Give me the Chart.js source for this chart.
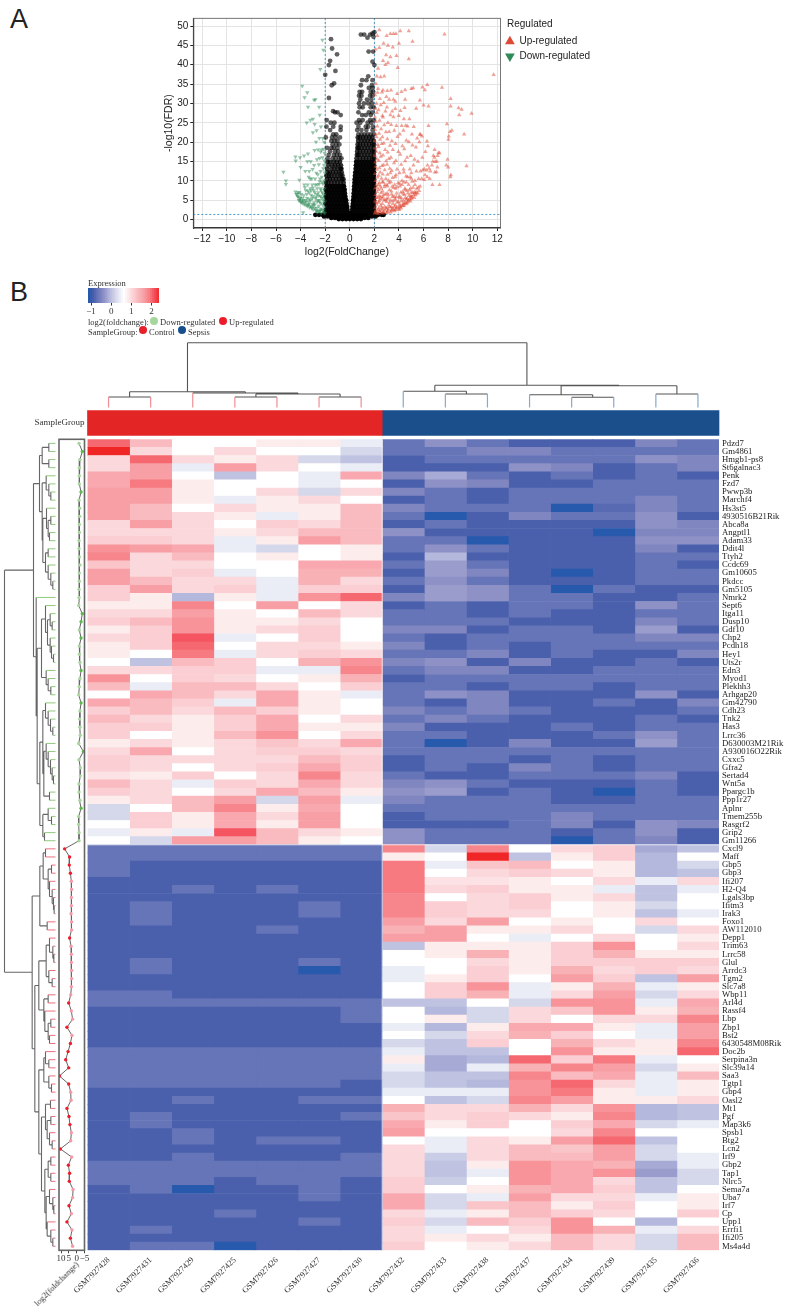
<!DOCTYPE html>
<html><head><meta charset="utf-8">
<script src="https://cdn.jsdelivr.net/npm/chart.js@4/dist/chart.umd.js"></script>
<style>
html,body{margin:0;padding:0;background:#fff;}
body{position:relative;width:789px;height:1308px;overflow:hidden;}
canvas{position:absolute;}
.t{position:absolute;white-space:nowrap;font-family:"Liberation Serif",serif;font-size:8.5px;line-height:10px;color:#333;will-change:transform;}
.s{position:absolute;white-space:nowrap;font-family:"Liberation Sans",sans-serif;font-size:10px;line-height:12px;color:#222;will-change:transform;}
.p{position:absolute;font-family:"Liberation Sans",sans-serif;font-size:27px;line-height:27px;color:#222;}
.d{position:absolute;width:8px;height:8px;border-radius:50%;}
</style></head><body>
<div class="p" style="left:10px;top:6px">A</div>
<div class="p" style="left:10px;top:279px">B</div>
<div class="s" style="left:507px;top:18px">Regulated</div>
<div class="t" style="left:88px;top:278px">Expression</div>
<div class="t" style="left:88px;top:317px">log2(foldchange):</div>
<div class="d" style="left:150px;top:317px;background:#A5D69B"></div>
<div class="t" style="left:160px;top:317px">Down-regulated</div>
<div class="d" style="left:219px;top:317px;background:#ED1C2B"></div>
<div class="t" style="left:229px;top:317px">Up-regulated</div>
<div class="t" style="left:88px;top:327px">SampleGroup:</div>
<div class="d" style="left:139px;top:326px;background:#E8202A"></div>
<div class="t" style="left:149px;top:327px">Control</div>
<div class="d" style="left:178px;top:326px;background:#174F8C"></div>
<div class="t" style="left:188px;top:327px">Sepsis</div>
<div class="t" style="left:15px;top:1258px;width:62px;text-align:right;transform-origin:100% 50%;transform:rotate(-45deg)">log2(foldchange)</div>
<canvas id="volcano" width="789" height="265" style="left:0;top:0"></canvas>
<canvas id="cbar" width="100" height="36" style="left:80px;top:283px"></canvas>
<canvas id="topTree" width="789" height="82" style="left:0;top:330px"></canvas>
<canvas id="group" width="789" height="36" style="left:0;top:405px"></canvas>
<canvas id="leftTree" width="58" height="878" style="left:0;top:430px"></canvas>
<canvas id="fc" width="60" height="878" style="left:40px;top:430px"></canvas>
<canvas id="heat" width="789" height="878" style="left:0;top:430px"></canvas>
<script>
// ---------- Panel A: volcano ----------
const upPoints=[
[2.03,1.6],[2.12,2.3],[2.06,3.1],[2.18,3.9],[2.04,4.7],[2.14,5.6],[2.08,6.4],[2.22,7.2],[2.05,8.1],[2.16,9],[2.09,10],[2.25,10.9],[2.04,11.8],[2.19,12.9],[2.1,13.7],[2.07,14.8],[2.21,15.6],[2.05,16.5],[2.15,17.6],[2.08,18.4],[2.28,19.3],[2.04,20.2],[2.17,21.3],[2.1,22.1],[2.06,23.2],[2.24,24.1],[2.12,25.3],[2.05,26.4],[2.2,27.6],[2.09,28.7],[2.16,30],[2.06,32.2],[2.26,32.8],[2.12,35.1],[2.2,37],[2.1,44],
[2.31,1.5],[2.42,2.1],[2.36,2.9],[2.51,3.6],[2.33,4.4],[2.46,5.2],[2.38,6.1],[2.55,6.9],[2.34,7.7],[2.48,8.6],[2.4,9.5],[2.58,10.6],[2.35,11.4],[2.47,12.2],[2.41,13.3],[2.62,13.9],[2.36,15.2],[2.52,16.3],[2.44,17.2],[2.33,18.8],[2.6,19.6],[2.47,20.7],[2.38,22.2],[2.55,23.4],[2.42,25.6],[2.66,26.8],[2.34,28.3],[2.52,29.6],[2.45,31.2],[2.62,32.9],[2.3,33.8],[2.5,36.8],[2.3,39],[2.4,44.4],[2.25,47.5],[2.4,49],
[2.63,1.6],[2.74,2],[2.68,2.7],[2.83,3.3],[2.65,4.1],[2.79,5],[2.7,5.8],[2.9,6.5],[2.67,7.3],[2.81,8.4],[2.72,9.6],[2.93,10.5],[2.68,11.7],[2.84,12.8],[2.75,14.1],[2.96,15.1],[2.7,16.6],[2.87,18],[2.77,19.7],[2.65,21.3],[2.94,22.6],[2.8,24.4],[2.69,26.4],[2.9,28],[2.76,30.2],[2.97,31.7],[2.7,33.4],[2.8,37],[2.7,41],[2.75,45.5],
[2.98,1.7],[3.07,2.2],[3.02,2.9],[3.17,3.7],[3,4.6],[3.12,5.5],[3.04,6.8],[3.22,7.6],[3.01,8.9],[3.15,10.1],[3.07,11.6],[3.25,13.2],[3.03,14.2],[3.18,15.7],[3.08,17.4],[3.27,19.1],[3.05,20.8],[3.2,22.7],[3.1,25],[3.3,27],[3.02,29],[3.2,31],[3.05,33.3],[2.9,40],[3.1,40.5],[2.95,42.5],[3.1,45],[3,47.5],
[3.31,1.9],[3.43,2.5],[3.36,3.2],[3.52,4.1],[3.33,5],[3.47,5.9],[3.38,7.3],[3.56,8.2],[3.34,9.7],[3.48,10.8],[3.41,12.6],[3.6,14.6],[3.35,16],[3.5,18],[3.42,20.3],[3.62,23],[3.36,24.5],[3.55,26.5],[3.45,28],[3.7,28.6],[3.35,33.4],[3.55,31],[3.3,42],[3.5,44.5],[3.3,48],[3.55,48],
[3.65,2.2],[3.78,2.9],[3.7,3.7],[3.86,4.4],[3.68,5.4],[3.81,6.8],[3.73,8],[3.92,9.4],[3.69,11],[3.84,13],[3.75,15.2],[3.95,17.5],[3.72,19.6],[3.88,21.4],[3.79,24.2],[3.98,26.8],[3.7,30.5],[3.85,32.5],[3.9,39.2],[3.8,42.3],[3.75,48],
[4.02,2.5],[4.12,3.2],[4.06,3.9],[4.19,4.7],[4.04,5.6],[4.15,7],[4.08,8.6],[4.24,10],[4.05,12],[4.18,14.2],[4.1,16.8],[4.28,19],[4.07,22],[4.22,24.2],[4.12,28.1],[4.2,33],[4,45.5],[4.1,48.7],
[4.33,3.5],[4.45,4.2],[4.38,4.9],[4.52,5.6],[4.35,6.6],[4.48,8],[4.41,9.6],[4.58,11.2],[4.37,13],[4.5,15.1],[4.43,18.2],[4.6,20.4],[4.36,23],[4.55,24.3],[4.4,26],[4.46,28.9],[4.5,31],[4.5,33.5],
[4.62,4],[4.74,4.7],[4.67,5.4],[4.83,6.2],[4.65,7.5],[4.78,9],[4.7,11],[4.88,13],[4.66,16],[4.8,20],[4.7,24.1],[4.85,26],[4.8,41.5],[4.8,48.7],
[4.93,4.7],[5.03,5.3],[4.97,6.1],[5.13,7],[4.95,8.1],[5.08,9.8],[5,12],[5.18,14],[4.96,16.5],[5.1,19.2],[5.05,22],[5.2,24],[5.15,34],[5,33.8],[5.1,46],
[5.24,5.6],[5.36,6.3],[5.28,7.1],[5.45,8],[5.3,10],[5.42,12.5],[5.26,15.5],[5.38,18.7],[5.48,21],[5.4,28.7],
[5.52,6.8],[5.64,7.4],[5.58,8.3],[5.72,8.6],[5.6,10.5],[5.75,12.5],[5.54,15],[5.66,20],[5.7,22],[5.75,21.9],[5.7,30.8],
[5.85,10.5],[5.95,12.8],[5.9,16],[5.88,21.5],[5.9,34.2],[6.05,10.3],[6.12,11.5],[6.08,13],[6.15,17.5],[6,29.5],[6.1,33.5],
[6.3,11],[6.25,12.7],[6.32,14],[6.35,19],[6.28,20.2],[6.4,24.2],[6.4,29.3],[6.3,34.8],
[6.5,10.5],[6.55,12.5],[6.45,13.2],[6.72,9],[6.68,14],[6.75,15],[6.8,16.5],[6.92,12.2],[6.95,15],[6.88,16],[6.9,18],
[7.05,12.3],[7.12,13.5],[7.08,15],[7.15,16.5],[7.2,17.2],[7.3,9],[7.3,17.2],[7.5,34.1],[7.7,47.9],
[7.85,14],[7.95,15.5],[7.9,24.7],[8,13.5],[8.02,20.7],[8.05,21.5],[8.18,11],[8.22,11.5],[8.15,22.7],[8.3,23],[8.2,29.3],[8.2,31.2],
[8.9,27],[8.85,28.8],[9.1,28.4],[9.3,22],[9.5,13.8],[9.9,27.4],[11.7,37.4]];
const upLowBand=[[2.08,1.9],[2.2,1.7],[2.3,2.5],[2.45,1.8],[2.55,2.4],[2.6,3.1],[2.72,1.7],[2.85,2.4],[2.95,3],[3.05,1.9],[3.15,2.6],[3.25,3.3],[3.38,2.2],[3.46,2.9],[3.58,2.5],[3.62,3.3],[3.74,2.5],[3.83,3.2],[3.97,2.9],[4.08,3.4],[4.16,2.9],[4.27,3.6],[4.35,4.1],[4.42,3.6],[4.55,4.3],[4.68,4.4],[4.78,5],[4.88,5.3],[4.98,5.7],[5.07,5.9],[5.2,6.3],[5.32,6.8],[5.42,7],[2.15,4.4],[2.27,5.6],[2.4,4.8],[2.5,5.9],[2.62,5.4],[2.75,6.4],[2.88,5],[3,5.3],[3.12,6.3],[3.24,4.4],[3.4,6.5],[3.5,4.8],[3.6,6],[3.7,5],[3.8,5.9],[3.95,4.6],[4.05,6],[4.2,5.5],[4.3,7.2],[4.45,6.4],[4.6,5.2],[4.72,6.8],[4.85,7.6],[5,7],[5.15,8.3],[5.3,9],[2.2,8.3],[2.35,9],[2.55,8],[2.65,9.7],[2.85,8.9],[3.05,8.6],[3.2,9.4],[3.45,8.5],[3.65,9],[3.85,8.4],[4.05,9.3],[4.25,9],[4.5,7.6],[5,10.6],[4.6,9.6],[3.3,12],[3.75,11.5],[4.4,12.2],[4.9,11]];
const downPoints=[
[-2.03,1.6],[-2.14,2.3],[-2.06,3.1],[-2.2,3.8],[-2.04,4.6],[-2.16,5.4],[-2.08,6.3],[-2.24,7.1],[-2.05,8],[-2.18,9.2],[-2.09,10],[-2.27,11],[-2.04,12.1],[-2.15,13.2],[-2.1,14.1],[-2.06,15.2],[-2.22,16],[-2.05,17.1],[-2.13,18.2],[-2.08,20],[-2.3,18],[-2.2,21],[-2.15,43.8],[-2.23,46.4],
[-2.33,1.6],[-2.44,2.1],[-2.37,2.8],[-2.53,3.5],[-2.35,4.2],[-2.48,5],[-2.4,6],[-2.56,7],[-2.36,8],[-2.5,9.1],[-2.42,10.5],[-2.6,11.6],[-2.38,12.5],[-2.52,14.2],[-2.45,15.8],[-2.36,17.5],[-2.58,18],[-2.48,21],[-2.35,24],[-2.45,27],[-2.5,29.1],[-2.4,38.8],
[-2.63,1.8],[-2.74,2.4],[-2.68,3],[-2.85,3.8],[-2.65,4.6],[-2.79,5.4],[-2.7,6.5],[-2.92,7.5],[-2.66,9],[-2.82,10.5],[-2.72,12],[-2.9,14],[-2.67,15.5],[-2.86,17.9],[-2.75,20],[-2.7,23],[-2.86,24.6],[-2.8,31],[-2.9,30.9],
[-2.98,2.6],[-3.08,3.2],[-3.02,4],[-3.18,5],[-3,6],[-3.14,7.5],[-3.05,9],[-3.22,10.5],[-3.03,13],[-3.18,15],[-3,22.5],[-3,26],[-3.2,25.7],
[-3.28,3.1],[-3.4,3.8],[-3.33,4.6],[-3.48,5.5],[-3.3,7],[-3.43,9],[-3.35,11],[-3.3,12.5],[-3.45,15],[-3.4,17],[-3.5,25],[-3.4,29.1],[-3.46,32.8],
[-3.55,3.7],[-3.67,4.4],[-3.6,5],[-3.75,6.2],[-3.58,7.5],[-3.7,9],[-3.62,12.5],[-3.72,16.5],[-3.68,31.5],[-3.8,1.8],
[-3.82,4.2],[-3.9,4.8],[-3.85,5.5],[-3.95,6.5],[-3.87,34.5],[-4,4.5],[-4.08,5],[-4.03,5.6],[-4.1,7],[-4,13.5],[-4.05,16],
[-4.15,5],[-4.25,6],[-4.2,7],[-4.1,10.2],[-4.35,6.5],[-4.42,7.2],[-4.4,15.2],[-4.42,16.2],[-5.2,9.1],[-5.2,10],[-5.4,12.3]];
const downLowBand=[[-2.12,1.9],[-2.25,2.6],[-2.4,2.4],[-2.55,2.1],[-2.7,2.2],[-2.85,2.9],[-2.95,3.6],[-3.1,2.9],[-3.2,3.5],[-3.32,4],[-3.45,3.5],[-3.55,4.5],[-3.7,3.9],[-3.78,5],[-3.92,4.4],[-4.05,5.4],[-4.2,5.8],[-4.28,6.6],[-2.15,4.9],[-2.3,5.7],[-2.45,4.5],[-2.6,5],[-2.75,5.8],[-2.9,4.4],[-3.05,5.5],[-3.15,6.3],[-3.3,5.3],[-3.5,6.5],[-2.2,6.7],[-2.35,7.6],[-2.55,6.2],[-2.65,8],[-2.85,7],[-3,8.2],[-3.2,8],[-3.4,7.4],[-3.65,8.3],[-2.25,9.6],[-2.45,9.8],[-2.8,9],[-3.1,10.5]];
const neutralRows=[
[0.1,[-.9,-.6,-.3,0,.3,.6,.9]],
[0.4,[-1.5,-1.2,-.9,-.6,-.3,0,.3,.6,.9,1.2,1.5]],
[0.8,[-2.1,-1.8,-1.5,-1.2,-.9,-.6,-.3,0,.3,.6,.9,1.2,1.5,1.8,2.1]],
[1.2,[-2.8,-2.5,-2.2,-1.9,-1.6,-1.3,-1,-.7,-.4,-.1,.2,.5,.8,1.1,1.4,1.7,2,2.3,2.6,2.75]],
[1.7,[-2,-1.7,-1.4,-1.1,-.8,-.5,-.2,0,.2,.5,.8,1.1,1.4,1.7,2]],
[2.5,[-1.95,-1.7,-1.45,-1.2,-.95,-.7,-.45,-.2,.2,.45,.7,.95,1.2,1.45,1.7,1.95]],
[3.3,[-1.85,-1.6,-1.35,-1.1,-.85,-.6,-.35,-.22,.22,.33,.58,.83,1.08,1.33,1.58,1.83,1.97]],
[4.1,[-1.97,-1.75,-1.5,-1.25,-1,-.75,-.5,-.27,.25,.45,.7,.95,1.2,1.45,1.7,1.95]],
[5,[-1.88,-1.62,-1.37,-1.12,-.87,-.62,-.38,-.3,.27,.33,.58,.83,1.08,1.33,1.58,1.83,1.97]],
[5.9,[-1.95,-1.75,-1.5,-1.25,-1,-.75,-.5,-.36,.3,.45,.7,.95,1.2,1.45,1.7,1.95]],
[6.8,[-1.88,-1.62,-1.37,-1.12,-.87,-.62,-.4,.32,.58,.83,1.08,1.33,1.58,1.83,1.97]],
[7.7,[-1.95,-1.75,-1.5,-1.25,-1,-.75,-.5,-.42,.34,.45,.7,.95,1.2,1.45,1.7,1.95]],
[8.6,[-1.88,-1.62,-1.37,-1.12,-.87,-.62,-.48,.36,.58,.83,1.08,1.33,1.58,1.83,1.97]],
[9.5,[-1.93,-1.75,-1.5,-1.25,-1,-.75,-.5,.38,.5,.7,.95,1.2,1.45,1.7,1.95]],
[10.4,[-1.85,-1.62,-1.37,-1.12,-.87,-.62,-.52,.4,.58,.83,1.08,1.33,1.58,1.83,1.97]],
[11.3,[-1.9,-1.7,-1.5,-1.25,-1,-.75,-.6,.42,.7,.95,1.2,1.45,1.7,1.95]],
[12.2,[-1.8,-1.62,-1.37,-1.12,-.87,-.66,.45,.58,.83,1.08,1.33,1.58,1.83,1.97]],
[13.1,[-1.85,-1.5,-1.25,-1,-.75,-.68,.48,.7,.95,1.2,1.45,1.7,1.95]],
[14,[-1.75,-1.45,-1.2,-.95,-.72,.5,.62,.83,1.08,1.33,1.58,1.83,1.97]],
[14.9,[-1.8,-1.6,-1.3,-1.05,-.8,.52,.7,.95,1.2,1.45,1.7,1.95]],
[15.8,[-1.8,-1.4,-1.15,-.85,-.68,.55,.83,1.08,1.33,1.58,1.83,1.97]],
[16.7,[-1.72,-1.3,-1.05,-.8,.58,.7,.95,1.2,1.45,1.7,1.95]],
[17.6,[-1.6,-1.2,-.95,.6,.83,1.08,1.33,1.58,1.83,1.97]],
[18.5,[-1.85,-1.5,-1.3,-1,.62,.72,.95,1.2,1.45,1.7,1.95]],
[19.4,[-1.4,-1.1,-.85,.64,.83,1.08,1.33,1.58,1.83,1.97]],
[20.3,[-1.5,-1.25,-1,.68,.95,1.2,1.45,1.7,1.95]],
[21.2,[-1.95,-1.45,-1.15,-.8,.65,.83,1.08,1.33,1.58,1.83]],
[22,[-1.35,-1.1,.7,.95,1.2,1.45,1.7,1.95]],
[23.1,[-1.6,-.75,.6,.95,1.35,1.85]],
[24,[-1.9,-1.35,-.74,.7,1.3,1.5,1.9]],
[25,[-1.55,-1.25,.55,.85,1.45,1.75]],
[25.7,[-1.88,.75,1.05,1.65,1.95]],
[27,[-.74,1,1.3,1.7]],
[27.7,[-1.2,-1,.7,1.55,1.85]],
[28,[-1.36]],
[29,[.8,1.05,1.7,1.95]],
[30,[.75,1.15,1.5,1.8]],
[31,[.85,1.4,1.75]],
[31.4,[-1.7]],
[32,[.75,.95,1.65,1.85]],
[33,[.8,1,1.7,1.9]],
[34,[1.55,1.85]],
[34.7,[-1.47,.9,1.8]],
[35.2,[-1.28]],
[36,[1,1.35,1.85]],
[37,[1.5]],[37.4,[-2]],[38.4,[-1.17]],[39.9,[-1.7,2]],[40.8,[1.85]],[41,[-1.6]],
[42.7,[-1.04]],[43.4,[1.53,1.9]],[44.2,[-1.44]],[46.6,[-1.53]],
[47,[1.44]],[47.2,[1.93]],[47.8,[.9,1.17,1.66]],[48.1,[1.85]],[48.4,[2]]];
const fdrCut=[1.3], fcCut=[-2,2];

// ---------- Panel B: heatmap ----------
const samples=["GSM7927428","GSM7927431","GSM7927429","GSM7927425","GSM7927426","GSM7927427","GSM7927430","GSM7927432","GSM7927433","GSM7927438","GSM7927437","GSM7927434","GSM7927439","GSM7927435","GSM7927436"];
const genes=["Pdzd7","Gm4861","Hmgb1-ps8","St6galnac3","Penk","Fzd7","Pwwp3b","Marchf4","Hs3st5","4930516B21Rik","Abca8a","Angptl1","Adam33","Ddit4l","Ttyh2","Ccdc69","Gm10605","Pkdcc","Gm5105","Nmrk2","Sept6","Itga11","Dusp10","Gdf10","Chp2","Pcdh18","Hey1","Uts2r","Edn3","Myod1","Plekhh3","Arhgap20","Gm42790","Cdh23","Tnk2","Has3","Lrrc36","D630003M21Rik","A930016O22Rik","Cxxc5","Gfra2","Sertad4","Wnt5a","Ppargc1b","Ppp1r27","Aplnr","Tmem255b","Rasgrf2","Grip2","Gm11266",
"Cxcl9","Maff","Gbp5","Gbp3","Ifi207","H2-Q4","Lgals3bp","Ifitm3","Irak3","Foxo1","AW112010","Depp1","Trim63","Lrrc58","Glul","Arrdc3","Tgm2","Slc7a8","Wbp11","Arl4d","Rassf4","Lbp","Zbp1","Bst2","6430548M08Rik","Doc2b","Serpina3n","Slc39a14","Saa3","Tgtp1","Gbp4","Oasl2","Mt1","Pgf","Map3k6","Spsb1","Btg2","Lcn2","Irf9","Gbp2","Tap1","Nlrc5","Sema7a","Uba7","Irf7","Cp","Upp1","Errfi1","Ifi205","Ms4a4d"];
const controlUpper=[
[2,1.3,.6,.6,.8,.8,.4],[2.4,1,.6,1,.6,.6,.2],[1,2,1,.8,1,.2,0],[1,1.6,.4,1.6,1,.6,.4],[1.5,1.6,.6,0,.6,.4,1.5],
[1.5,1.9,.8,.6,.6,.4,.6],[1.6,1.6,.8,.6,1,.2,1],[1.6,1.6,.8,.4,.8,1,.6],[1.6,1.3,.6,1,.8,.8,1.3],[1.6,1.3,1,.8,.4,.8,1.3],
[1,1.6,1,.6,1.1,1,1.3],[1,1,1,.8,1,1.3,1.3],[1.1,1.1,1,.4,.8,1.6,1.3],[1.7,1.6,1.5,.4,.2,.6,.8],[1.8,1,1.3,.6,.8,.6,.8],
[1.2,1,1,.6,.6,1.5,1.5],[1.6,1,1.1,.4,.6,1.4,1.4],[1.6,1.3,1,1,.4,1.4,1],[1.1,1.6,1,1.1,.4,1.1,1.1],[1.1,.8,-.1,.8,.4,1.7,2],
[.8,.8,1.8,.6,1.6,.6,1],[1,1,1.6,.8,.6,1.3,1],[1.1,1.3,1.7,.8,.8,1,.6],[.8,1.1,1.7,.8,1,1.1,.6],[1,1.1,2.1,.4,.6,1.1,.6],
[.8,1.1,2,.6,1,1,.8],[.8,.6,1.9,.4,1,1.1,1],[.6,0,1.3,1.1,.6,1.4,1.7],[1,1,1.1,1.1,.4,.4,1.8],[1.7,.6,1.1,1,.6,.8,1.4],
[1.3,.4,1.3,1.3,1,.6,1.1],[.6,1.5,1.3,1,1.5,.8,.4],[1.5,1.3,1.1,.4,1.5,.8,.6],[1.1,1.3,1,1.3,1.1,.8,.6],[1.3,1,.8,1.1,1.5,.6,1],
[1.1,1.1,.8,1.1,1.5,.8,.8],[1.1,.6,.8,1.3,1.7,.6,1],[.8,1,.8,1,1.2,1,1.5],[1,1.5,.6,1,1.1,1.1,1],[1.1,1,1,1,1,1.3,1.1],
[1.1,1,.6,1,1.1,1.5,1.1],[.9,.8,1.1,.6,1,1.8,1],[1.3,1,.4,1.1,1,1.5,1],[1.1,1,.6,1,1.5,1.3,.8],[.8,1,1.3,1.6,.2,1.6,.4],
[.2,.6,1.3,1.8,.8,1.5,.6],[.2,1.1,.8,1.5,1,1.6,.6],[.6,1.1,.8,1.5,.8,1.6,.6],[.4,.8,.4,2.1,1.3,1,.8],[.6,.2,1.6,1.6,1.3,.8,.6]];
const sepsisUpper=[
[-.7,-.4,-.7,-.9,-.9,-.9,-.5,-.7],[-.7,-.7,-.5,-.5,-.7,-.7,-.7,-.7],[-.9,-.7,-.7,-.7,-.7,-.7,-.4,-.5],[-.9,-.9,-.9,-.4,-.5,-.9,-.7,-.5],[-.5,-.2,-.7,-.9,-.7,-.9,-.7,-.9],
[-.9,-.4,-.5,-.9,-.9,-.7,-.7,-.7],[-.5,-.7,-.9,-.7,-.7,-.7,-.7,-.7],[-.9,-.7,-.9,-.7,-.7,-.7,-.5,-.7],[-.5,-.7,-.7,-.7,-1.1,-.8,-.5,-.7],[-.7,-1.1,-.9,-.5,-.7,-.7,-.4,-.9],
[-.9,-.7,-.9,-.9,-.9,-.9,-.4,-.5],[-.4,-.9,-.9,-.9,-.9,-1.1,-.5,-.5],[-.7,-.7,-1.1,-.9,-.9,-.9,-.4,-.4],[-.7,-.4,-.7,-.9,-.9,-.9,-.5,-.9],[-.9,-.1,-.9,-.9,-.9,-.9,-.7,-.7],
[-.7,-.3,-.7,-.9,-.9,-.9,-.7,-.9],[-.9,-.3,-.5,-.9,-1.1,-.9,-.7,-.7],[-.7,-.4,-.7,-.9,-.9,-.9,-.7,-.7],[-.9,-.3,-.4,-.7,-1.1,-.7,-.9,-.9],[-.5,-.3,-.4,-.7,-.7,-.9,-.9,-.7],
[-.9,-.7,-.9,-.7,-.7,-.9,-.4,-.7],[-.7,-.7,-.9,-.7,-.9,-.9,-.7,-.7],[-.7,-.7,-.7,-.9,-.9,-.9,-.5,-.7],[-.5,-.5,-.9,-.7,-.7,-.9,-.3,-.9],[-.7,-.9,-.7,-.7,-.7,-.7,-.5,-.5],
[-.5,-.9,-.7,-.9,-.7,-.7,-.7,-.7],[-.7,-.7,-.5,-.9,-.7,-.9,-.9,-.5],[-.5,-.4,-.9,-.5,-.9,-.9,-.7,-.9],[-.7,-.5,-.5,-.9,-.9,-.7,-.7,-.7],[-.9,-.7,-.7,-.7,-.7,-.7,-.7,-.7],
[-.7,-.7,-.9,-.7,-.7,-.9,-.7,-.7],[-.7,-.4,-.5,-.9,-.9,-.9,-.4,-.9],[-.7,-.9,-.5,-.9,-.9,-.7,-.9,-.5],[-.5,-.7,-.5,-.7,-.9,-.9,-.9,-.7],[-.7,-.5,-.7,-.9,-.9,-.9,-.7,-.9],
[-.5,-.9,-.9,-.9,-.7,-.9,-.7,-.7],[-.7,-.7,-.9,-.9,-.9,-.7,-.4,-.7],[-.7,-1.1,-.9,-.5,-.9,-.9,-.3,-.7],[-.7,-.7,-.7,-.7,-.7,-.7,-.7,-.7],[-.9,-.7,-.7,-.9,-.7,-.9,-.7,-.7],
[-.9,-.7,-.9,-.5,-.7,-.9,-.7,-.7],[-.7,-.9,-.9,-.7,-.7,-.7,-.5,-.9],[-.5,-.4,-.7,-.9,-.9,-.9,-.7,-.9],[-.4,-.3,-.9,-.7,-.9,-1.1,-.7,-.9],[-.5,-.7,-.7,-.7,-.9,-.9,-.7,-.7],
[-.7,-.7,-.7,-.7,-.7,-.7,-.7,-.7],[-.9,-.7,-.7,-.7,-.5,-.7,-.7,-.7],[-.9,-.9,-.9,-.7,-.5,-.9,-.4,-.5],[-.4,-.7,-.7,-.7,-.9,-.7,-.4,-.9],[-.4,-.7,-.7,-.7,-1.1,-.7,-.5,-.9]];
const controlLower=[
[-.7,-.7,-.7,-.7,-.7,-.7,-.7],[-.7,-.7,-.7,-.7,-.7,-.7,-.7],[-.7,-.9,-.9,-.9,-.9,-.9,-.9],[-.7,-.9,-.9,-.9,-.9,-.9,-.9],[-.9,-.9,-.9,-.9,-.9,-.9,-.9],
[-.9,-.9,-.7,-.9,-.7,-.9,-.9],[-.9,-.9,-.9,-.9,-.9,-.9,-.9],[-.9,-.7,-.9,-.9,-.9,-.7,-.9],[-.9,-.7,-.9,-.9,-.9,-.7,-.9],[-.9,-.7,-.9,-.9,-.9,-.9,-.9],
[-.9,-.9,-.9,-.9,-.7,-.9,-.9],[-.9,-.9,-.9,-.9,-.9,-.9,-.9],[-.9,-.9,-.9,-.9,-.9,-.9,-.9],[-.9,-.9,-.9,-.9,-.9,-.9,-.9],[-.9,-.7,-.9,-.9,-.9,-.7,-.9],
[-.9,-.7,-.9,-.9,-.9,-1.1,-.9],[-.9,-.9,-.9,-.9,-.9,-.9,-.9],[-.9,-.9,-.9,-.9,-.9,-.9,-.9],[-.7,-.7,-.9,-.9,-.9,-.9,-.9],[-.7,-.7,-.7,-.7,-.7,-.7,-.7],
[-.9,-.9,-.9,-.9,-.9,-.9,-.7],[-.9,-.9,-.9,-.9,-.9,-.9,-.7],[-.9,-.9,-.9,-.9,-.9,-.9,-.9],[-.9,-.9,-.9,-.9,-.9,-.9,-.9],[-.9,-.9,-.9,-.9,-.9,-.9,-.9],
[-.7,-.7,-.7,-.7,-.7,-.7,-.7],[-.7,-.7,-.7,-.7,-.7,-.7,-.7],[-.7,-.7,-.7,-.7,-.7,-.7,-.7],[-.7,-.7,-.7,-.7,-.7,-.7,-.7],[-.7,-.7,-.7,-.7,-.7,-.7,-.9],
[-.9,-.9,-.9,-.9,-.9,-.9,-.9],[-.9,-.9,-.7,-.9,-.9,-.7,-.7],[-.9,-.9,-.9,-.9,-.9,-.9,-.9],[-.9,-.7,-.9,-.9,-.9,-.9,-.7],[-.9,-.7,-.9,-.9,-.9,-.9,-.9],
[-.9,-.9,-.7,-.9,-.9,-.9,-.9],[-.9,-.9,-.7,-.9,-.7,-.7,-.9],[-.9,-.9,-.9,-.9,-.9,-.9,-.9],[-.9,-.9,-.7,-.9,-.9,-.9,-.7],[-.7,-.7,-.7,-.7,-.7,-.7,-.7],
[-.7,-.7,-.7,-.7,-.7,-.7,-.7],[-.7,-.7,-.7,-.9,-.7,-.7,-.9],[-.9,-.7,-1.1,-.9,-.9,-.7,-.9],[-.9,-.9,-.9,-.9,-.9,-.7,-.9],[-.9,-.9,-.9,-.9,-.9,-.9,-.9],
[-.9,-.9,-.9,-.7,-.9,-.9,-.9],[-.9,-.9,-.9,-.9,-.9,-.7,-.9],[-.9,-.7,-.9,-.9,-.9,-.9,-.9],[-.9,-.9,-.9,-.9,-.9,-.9,-.9],[-.9,-.7,-.7,-1.1,-.9,-.9,-.9]];
const sepsisLower=[
[1.8,.2,1.8,.6,1,1.1,-.2,0],[.8,.6,2.4,0,.8,1.1,-.1,.6],[1.9,.4,1.2,1.3,.6,.8,-.1,.2],[1.9,.6,1,1.1,1,.8,-.1,0],[1.9,.9,.9,.8,.6,1,.4,1],
[1.9,1,1.1,.8,.8,.4,0,.4],[1.8,.6,1,1.1,.8,1,0,.6],[1.8,1.1,1,1.1,.6,.8,.2,.6],[1.8,1.1,1,1,.6,.8,0,.4],[1.6,1,1.6,.6,.8,.6,1,.6],
[1.4,1.6,.8,.8,1,.6,.2,1],[1.6,1.6,.6,.4,.6,1,.6,.8],[0,.8,.8,.8,1.1,1.7,.6,1],[.6,.8,1.4,.8,1.1,1.4,.8,.8],[.6,.6,1,.8,1.1,1.1,1.1,1.1],
[.4,.6,1.1,.8,1.4,1,1.1,1],[.4,.8,1.1,.6,1.6,1.1,0,1.6],[.6,1.1,1.7,.4,.8,1.4,.4,.8],[.6,1.1,1.4,.4,1,1.6,.2,1],[0,0,.6,.2,1.7,1.7,.4,1.5],
[.6,-.1,.2,1,1.2,1.7,.8,1.4],[.6,.8,.2,1,.6,1,1,1.8],[.4,-.1,.8,1.5,1.5,.8,.4,1.6],[.6,.2,1,1.4,1.1,.6,.4,1.6],[.2,0,1.1,.6,1.4,1,.8,1.8],
[.4,0,0,.6,1.7,.8,.8,2],[.8,-.2,-.1,2,1.1,1.9,.4,.6],[.4,-.2,.4,1.4,1.8,1.6,.2,.8],[.2,0,0,1.8,1.3,1.5,.4,1.3],[.2,0,-.1,1.7,2,1,.4,.8],
[.4,.4,.4,1.7,1.9,.8,.4,.8],[.6,0,.2,1.8,1.6,.8,.8,1],[1.4,1,1,1.4,1,1.7,-.1,0],[1.2,1,1.1,1,.8,1.8,-.1,0],[1.5,.8,1.1,.6,1.1,1.5,.2,.4],
[1.6,.6,.6,.6,1,1.8,.6,.6],[.6,.4,1,.8,1.6,2,0,.6],[1,.4,1,1.3,1.2,1.6,.2,.6],[1,.1,1,1.3,1.3,1.6,.2,.4],[1,0,.8,1.7,1.5,1.4,-.2,.4],
[1,0,.4,1.7,1.5,1.7,-.3,.2],[1.1,.1,.6,1.7,1.5,1,0,.2],[1.1,.6,.8,1.4,1.5,1.1,0,.6],[1.5,.2,.4,1.6,1,1,.4,.8],[1.5,.2,1.2,1.3,.8,1.1,.6,.8],
[1,.4,.8,1.3,1.1,1,.6,1.1],[1.1,.2,1.3,1.1,1.7,.6,-.1,.6],[1,.4,.6,1,1.7,1.4,.4,1],[1,.8,1,.8,1.3,1,.2,1.3],[1.1,.6,.8,1,1.3,1,.2,1.3]];
const log2fc=[-1.5,-3.6,-2.1,-1.7,-1.7,-1.7,-2.8,-1.5,-1.9,-1.9,-1.7,-1.7,-1.5,-1.5,-1.7,-2.1,-1.7,-1.7,-1.5,-1.5,-1.3,-3.6,-2.8,-1.7,-2.8,-1.7,-1.7,-2.1,-2.8,-2.1,-1.7,-1.3,-2.8,-2.1,-1.9,-2.1,-2.3,-1.3,-4.3,-1.5,-2.3,-2.3,-1.5,-1.5,-2.1,-2.8,-1.3,-1.3,-1.5,-1.5,
7.7,4.5,4.7,4,3.4,3.2,3.4,3.4,3.6,3.2,3.2,4.5,3.6,3.4,3.4,3.2,3.2,3.4,3.8,5.1,3.4,2.6,6.2,3,4,5.5,7,5.1,11,5.1,3.8,3.6,6.2,4.9,4.3,3.4,3.8,10.4,3.2,5.3,4.5,4.7,2.3,2.6,4.9,3.4,6.2,3,4,2.6];
const groupNames=["Control","Sepsis"], groupSizes=[7,8];
// merge trees: [merge height, left, right]; 0 is a leaf
const rowTree=[153,
 [66,
  [48,[40,[20,0,0],[20,0,0]],[40,[28,0,[20,0,[14,0,0]]],[38,[27,0,[22,[14,0,0],[18,0,0]]],[30,[22,0,0],[22,0,[14,0,[8,0,0]]]]]]],
  [58,0,[55,[42,[30,0,[24,[16,0,[10,0,0]],[16,0,[12,0,[6,0,0]]]]],[28,0,[22,0,[14,0,0]]]],
      [47,[38,[30,0,[22,0,[15,0,[8,0,0]]]],[35,[28,0,[22,0,[15,0,[10,0,[6,0,0]]]]],[18,0,0]]],[38,[22,0,[12,0,0]],[33,0,0]]]]]],
 [70,
  [47,[37,[30,0,0],[22,[12,0,0],[18,0,[10,0,[6,0,[4,0,0]]]]]],[25,0,0]],
  [62,[50,[28,[18,0,[8,0,[5,0,0]]],[20,0,[10,0,0]]],[35,[22,0,0],[32,0,[22,[14,0,0],[18,0,0]]]]],
      [50,[35,[30,0,[20,0,0]],[20,0,[12,0,0]]],
          [42,[30,[15,0,0],[25,[14,0,0],[18,0,[10,0,0]]]],[32,[22,[14,0,0],[14,0,0]],[28,[18,0,[8,0,[5,0,0]]],[25,0,[14,0,[8,0,0]]]]]]]]]];
const colTree=[64.8,
 [15.8,[10.5,0,0],[14.5,0,[13.5,[10.5,0,0],[10.5,0,0]]]],
 [22.2,[16.2,0,[13.5,0,0]],[21.8,[12.8,0,[10.2,0,0]],[13.5,0,0]]]];

// ---------- helpers ----------
const SERIF='"Liberation Serif",serif', SANS='"Liberation Sans",sans-serif';
Chart.defaults.animation=false;
Chart.defaults.responsive=false;
Chart.defaults.devicePixelRatio=1;
Chart.defaults.plugins.tooltip.enabled=false;
Chart.defaults.plugins.legend.display=false;
const frame=(color,w)=>({id:'frame',afterDatasetsDraw(c){const a=c.chartArea,x=c.ctx;x.save();x.strokeStyle=color;x.lineWidth=w;x.strokeRect(a.left,a.top,a.right-a.left,a.bottom-a.top);x.restore();}});
const stops=[[-1.15,'#1E58AC'],[-.9,'#4A60AC'],[-.7,'#6674B8'],[-.5,'#8086BF'],[-.3,'#9A9CCC'],[-.1,'#B4B8DC'],[.2,'#D5D8EB'],[.4,'#EBEDF6'],[.6,'#FFFFFF'],[.8,'#FDECEC'],[1,'#FBD8DB'],[1.3,'#F9BBBF'],[1.6,'#F79FA5'],[1.9,'#F67A80'],[2.1,'#F45560'],[2.37,'#F02525']];
const rgb=h=>[1,3,5].map(i=>parseInt(h.slice(i,i+2),16));
function exprColor(v){
  let i=0; while(i<stops.length-2&&v>stops[i+1][0])i++;
  const [a,ca]=stops[i],[b,cb]=stops[i+1],t=Math.max(0,Math.min(1,(v-a)/(b-a))),A=rgb(ca),B=rgb(cb);
  return `rgb(${A.map((k,j)=>Math.round(k+(B[j]-k)*t)).join(',')})`;
}
const minus=v=>String(v).replace('-','\u2212');
const pairs=l=>l.map(([x,y])=>({x,y}));
const rows=l=>l.flatMap(([y,xs])=>xs.map(x=>({x,y})));
function treeLines(tree,horizontal){
  let next=0; const inner=[],leaf=[];
  const pt=(p,h)=>horizontal?{x:h,y:p}:{x:p,y:h};
  const gap={x:null,y:null};
  (function walk(n){
    if(n===0) return {p:.5+next++,h:0,leaf:true};
    const a=walk(n[1]),b=walk(n[2]),h=n[0];
    for(const c of [a,b]) (c.leaf?leaf:inner).push(pt(c.p,c.h),pt(c.p,h),gap);
    inner.push(pt(a.p,h),pt(b.p,h),gap);
    return {p:(a.p+b.p)/2,h,leaf:false};
  })(tree);
  return {inner,leaf};
}
const lineDs=(data,color,w)=>({data,showLine:true,borderColor:color,borderWidth:w,pointRadius:0,spanGaps:false,clip:false});

// ---------- volcano ----------
const neutralData=rows(neutralRows);
const neutralShade=p=>{
  const solid=p.x>0?15:9, mottled=p.x>0?22:15;
  return p.y<solid?'rgba(0,0,0,.97)':p.y<mottled?'rgba(0,0,0,.8)':'rgba(0,0,0,.62)';
};
new Chart(document.getElementById('volcano'),{type:'scatter',
 data:{datasets:[
  {label:'Up-regulated',data:pairs([...upPoints,...upLowBand]),pointStyle:'triangle',pointRadius:2.5,backgroundColor:'rgba(224,70,50,.5)',borderWidth:0,pointBorderWidth:0},
  {label:'Down-regulated',data:pairs([...downPoints,...downLowBand]),pointStyle:'triangle',rotation:180,pointRadius:2.5,backgroundColor:'rgba(46,139,87,.5)',borderWidth:0,pointBorderWidth:0},
  {label:'Not significant',data:neutralData,pointRadius:2.4,pointBorderWidth:0,pointBackgroundColor:neutralData.map(neutralShade)},
  {label:'FC-',data:[{x:fcCut[0],y:-2.2},{x:fcCut[0],y:52}],showLine:true,borderColor:'#4F97BE',borderWidth:1,borderDash:[2,2],pointRadius:0},
  {label:'FC+',data:[{x:fcCut[1],y:-2.2},{x:fcCut[1],y:52}],showLine:true,borderColor:'#4F97BE',borderWidth:1,borderDash:[2,2],pointRadius:0},
  {label:'FDR',data:[{x:-12.73,y:fdrCut[0]},{x:12.25,y:fdrCut[0]}],showLine:true,borderColor:'#4F97BE',borderWidth:1,borderDash:[2,2],pointRadius:0}
 ]},
 options:{
  layout:{autoPadding:false,padding:{left:163,top:18.3,right:189,bottom:7}},
  plugins:{legend:{display:true,position:'right',align:'start',
    title:{display:true,text:'',font:{family:SANS,size:10},padding:{top:2,bottom:-1}},
    labels:{usePointStyle:true,boxHeight:8,boxWidth:9,padding:5,color:'#222',font:{family:SANS,size:10},
     generateLabels:()=>[
      {text:'Up-regulated',fontColor:'#222',fillStyle:'#DD4A36',strokeStyle:'#DD4A36',lineWidth:0,pointStyle:'triangle',rotation:0,datasetIndex:0},
      {text:'Down-regulated',fontColor:'#222',fillStyle:'#2E8B57',strokeStyle:'#2E8B57',lineWidth:0,pointStyle:'triangle',rotation:180,datasetIndex:1}]}}},
  scales:{
   x:{type:'linear',min:-12.73,max:12.25,afterFit:s=>{s.height=30},
    ticks:{stepSize:2,includeBounds:false,maxRotation:0,autoSkip:false,color:'#222',font:{family:SANS,size:10},padding:2,callback:minus},
    grid:{color:'#E4E4E4',tickColor:'#222',tickLength:3},border:{color:'#222',width:1.2},
    title:{display:true,text:'log2(FoldChange)',color:'#222',font:{family:SANS,size:10.5},padding:0}},
   y:{type:'linear',min:-2.2,max:52,afterFit:s=>{s.width=30.3},
    ticks:{stepSize:5,includeBounds:false,color:'#222',font:{family:SANS,size:10},padding:2},
    grid:{color:'#E4E4E4',tickColor:'#222',tickLength:3},border:{color:'#222',width:1.2},
    title:{display:true,text:'-log10(FDR)',color:'#222',font:{family:SANS,size:10.5},padding:0}}}},
 plugins:[frame('#555',.8)]});

// ---------- colour bar ----------
const cbarDs=[];
for(let a=-1.15;a<2.37;a+=.09){cbarDs.push({data:[[a,a+.1]],backgroundColor:exprColor(a+.05),grouped:false,barPercentage:1,categoryPercentage:1,borderWidth:0});}
new Chart(document.getElementById('cbar'),{type:'bar',
 data:{labels:['Expression'],datasets:cbarDs},
 options:{indexAxis:'y',layout:{autoPadding:false,padding:{left:8,right:21,top:5}},
  scales:{y:{display:false},
   x:{type:'linear',min:-1.15,max:2.37,afterFit:s=>{s.height=16},
    ticks:{stepSize:1,includeBounds:false,maxRotation:0,color:'#333',font:{family:SERIF,size:9},padding:1,callback:minus},
    grid:{drawOnChartArea:false,tickColor:'#333',tickLength:2.5},border:{display:false}}}}});

// ---------- dendrograms ----------
const ct=treeLines(colTree,false);
new Chart(document.getElementById('topTree'),{type:'scatter',
 data:{datasets:[lineDs(ct.leaf.slice(0,21),'#EE8F96',1.2),lineDs(ct.leaf.slice(21),'#86A9D0',1.2),lineDs(ct.inner,'#555',1.1)]},
 options:{layout:{autoPadding:false,padding:{left:87.5,right:70,bottom:4.5}},
  scales:{x:{type:'linear',min:0,max:15,display:false},y:{type:'linear',min:0,max:77.5,display:false}}}});
const rt=treeLines(rowTree,true);
const splitAt=rt.leaf.findIndex(p=>p.y>50);
new Chart(document.getElementById('leftTree'),{type:'scatter',
 data:{datasets:[lineDs(rt.leaf.slice(0,splitAt),'#8FCB7A',1),lineDs(rt.leaf.slice(splitAt),'#EE6F7C',1),lineDs(rt.inner,'#666',1.1)]},
 options:{layout:{autoPadding:false,padding:{top:9.3,bottom:57.7}},
  scales:{x:{type:'linear',min:-7.5,max:166.5,reverse:true,display:false},y:{type:'linear',min:0,max:100,reverse:true,display:false}}}});

// ---------- log2FC strip ----------
new Chart(document.getElementById('fc'),{type:'scatter',
 data:{datasets:[{data:log2fc.map((v,i)=>({x:v,y:i+.5})),showLine:true,borderColor:'#666',borderWidth:1,pointRadius:1.7,pointBorderWidth:0,
   pointBackgroundColor:log2fc.map(v=>v<0?(v<=-2.7?'#5CBB4C':'#A7D79C'):(v>=3.9?'#ED1C2B':'#F59AA5'))}]},
 options:{layout:{autoPadding:false,padding:{left:19,right:15.5,top:9.3}},
  scales:{y:{type:'linear',min:0,max:100,reverse:true,display:false},
   x:{type:'linear',min:-5,max:11.28,reverse:true,afterFit:s=>{s.height=57.7},
    ticks:{stepSize:5,includeBounds:false,autoSkip:false,maxRotation:0,color:'#333',font:{family:SERIF,size:9},padding:0,callback:minus},
    grid:{drawOnChartArea:false,tickColor:'#444',tickLength:3},border:{display:false}}}},
 plugins:[frame('#666',1.6)]});

// ---------- sample group bar ----------
new Chart(document.getElementById('group'),{type:'bar',
 data:{labels:['SampleGroup'],datasets:groupNames.map((n,i)=>({label:n,data:[groupSizes[i]],backgroundColor:['#E42526','#1A4F8B'][i],barThickness:24.7,borderWidth:0,clip:false}))},
 options:{indexAxis:'y',layout:{autoPadding:false,padding:{right:70,top:6,bottom:5.3}},
  scales:{x:{stacked:true,min:0,max:15,display:false},
   y:{stacked:true,afterFit:s=>{s.width=87.5},ticks:{color:'#333',font:{family:SERIF,size:9},padding:3},grid:{display:false,drawTicks:false},border:{display:false}}}}});

// ---------- heatmap ----------
const expression=[...controlUpper.map((r,i)=>[...r,...sepsisUpper[i]]),...controlLower.map((r,i)=>[...r,...sepsisLower[i]])];
const blockSeams={id:'blockSeams',afterDatasetsDraw(c){
  const a=c.chartArea,x=c.ctx,sx=c.scales.x.getPixelForValue(groupSizes[0]),sy=(c.scales.y.getPixelForTick(49)+c.scales.y.getPixelForTick(50))/2;
  x.save();x.strokeStyle='rgba(255,255,255,.75)';x.lineWidth=1;x.beginPath();x.moveTo(sx,a.top);x.lineTo(sx,a.bottom);x.moveTo(a.left,sy);x.lineTo(a.right,sy);x.stroke();x.restore();}};
new Chart(document.getElementById('heat'),{type:'bar',
 data:{labels:genes,datasets:samples.map((s,c)=>({label:s,xAxisID:'x',yAxisID:'y',data:genes.map(()=>1),
   backgroundColor:expression.map(r=>exprColor(r[c])),barPercentage:1,categoryPercentage:1,borderWidth:0}))},
 options:{indexAxis:'y',layout:{autoPadding:false,padding:{left:87.5,top:9.3}},
  scales:{
   x:{type:'linear',stacked:true,min:0,max:15,display:false},
   y:{type:'category',stacked:true,position:'right',afterFit:s=>{s.width=70},
    ticks:{autoSkip:false,color:'#222',font:{family:SERIF,size:8.7},padding:3},grid:{display:false,drawTicks:false},border:{display:false}},
   xS:{type:'category',axis:'x',labels:samples,position:'bottom',offset:true,afterFit:s=>{s.height=57.7},
    ticks:{autoSkip:false,minRotation:45,maxRotation:45,color:'#333',font:{family:SERIF,size:8.3},padding:5},grid:{display:false,drawTicks:false},border:{display:false}}}},
 plugins:[blockSeams]});
</script>
</body></html>
